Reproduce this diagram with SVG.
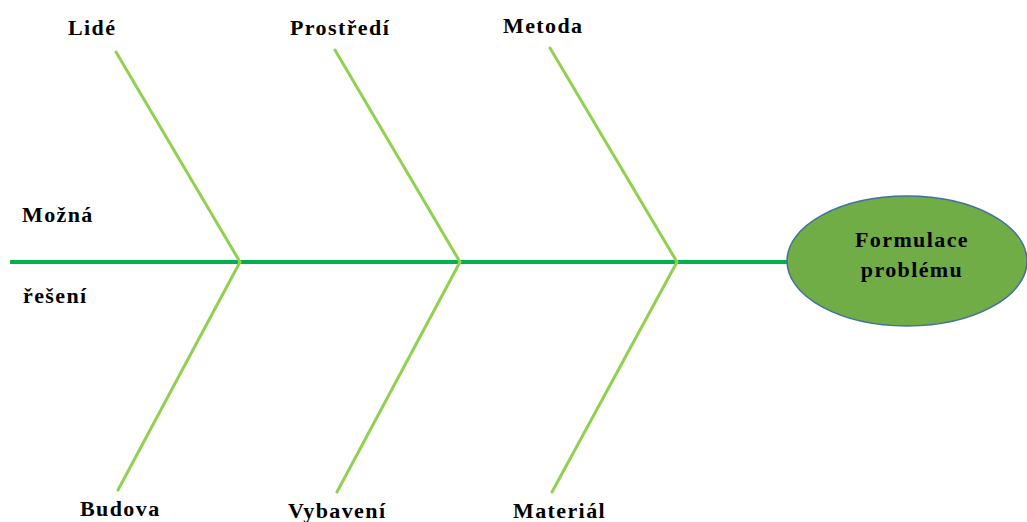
<svg xmlns="http://www.w3.org/2000/svg" width="1027" height="522" viewBox="0 0 1027 522">
<style>
.lbl{font-family:"Liberation Serif","Times New Roman",serif;font-weight:bold;font-size:22px;letter-spacing:1.4px;fill:#000}
.bone{stroke:#92D050;stroke-width:3;fill:none;stroke-linecap:round}
.spine{stroke:#00B050;stroke-width:4;fill:none}
</style>
<rect width="1027" height="522" fill="#fff"/>
<g id="connectors">
<line class="spine" x1="10" y1="262" x2="790" y2="262"/>
<polyline class="bone" points="116,52 240,262 118,490"/>
<polyline class="bone" points="335,50 460,262 337,492"/>
<polyline class="bone" points="550,48 677,262 552,492"/>
</g>
<g id="problem">
<ellipse cx="907" cy="261" rx="120" ry="65" fill="#70AD47" stroke="#41719C" stroke-width="1.5"/>
<text class="lbl" x="912" y="247" text-anchor="middle">Formulace</text>
<text class="lbl" x="912" y="277" text-anchor="middle">problému</text>
</g>
<g id="lide"><text class="lbl" x="68" y="35">Lidé</text></g>
<g id="prostredi"><text class="lbl" x="290" y="35">Prostředí</text></g>
<g id="metoda"><text class="lbl" x="503" y="33">Metoda</text></g>
<g id="reseni"><text class="lbl" x="22" y="222">Možná</text><text class="lbl" x="23" y="303">řešení</text></g>
<g id="budova"><text class="lbl" x="80" y="516">Budova</text></g>
<g id="vybaveni"><text class="lbl" x="288" y="518">Vybavení</text></g>
<g id="material"><text class="lbl" x="513" y="518">Materiál</text></g>
</svg>
